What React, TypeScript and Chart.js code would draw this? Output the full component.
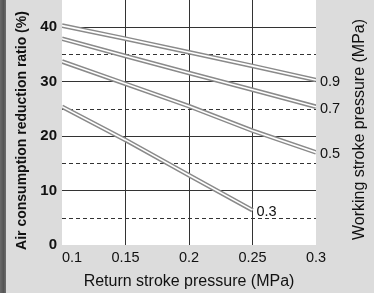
import React, { useEffect, useRef } from "react";
import { Chart, registerables } from "chart.js";

Chart.register(...registerables);

const xTicks = [0.1, 0.15, 0.2, 0.25, 0.3];
const xTickLabels = ["0.1", "0.15", "0.2", "0.25", "0.3"];
const yTicks = [0, 10, 20, 30, 40];
const yDashed = [5, 15, 25, 35];
const xValues = [0.1, 0.15, 0.2, 0.25, 0.3];
const seriesLabels = ["0.9", "0.7", "0.5", "0.3"];
const s09 = [40.3, 37.9, 35.4, 32.9, 30.3];
const s07 = [37.9, 34.7, 31.6, 28.5, 25.4];
const s05 = [33.7, 29.6, 25.5, 21.0, 17.0];
const s03 = [25.4, 19.3, 12.8, 6.4];
const xTitle = "Return stroke pressure (MPa)";
const yTitle = "Air consumption reduction ratio (%)";
const y2Title = "Working stroke pressure (MPa)";

const FONT = "'Liberation Sans', Arial, Helvetica, sans-serif";

export default function App() {
  const ref = useRef<HTMLCanvasElement | null>(null);

  useEffect(() => {
    document.body.style.margin = "0";
    const canvas = ref.current;
    if (!canvas) return;
    const series = [s09, s07, s05, s03];
    const toPts = (arr: number[]) => arr.map((v, i) => ({ x: xValues[i], y: v }));

    const inner = series.map((s, i) => ({
      label: seriesLabels[i],
      data: toPts(s),
      borderColor: "#ffffff",
      borderWidth: 1.6,
      pointRadius: 0,
      tension: 0,
      order: 0,
      borderCapStyle: "butt" as const,
    }));
    const outer = series.map((s, i) => ({
      label: "outer" + seriesLabels[i],
      data: toPts(s),
      borderColor: "#8a8a8a",
      borderWidth: 4.6,
      pointRadius: 0,
      tension: 0,
      order: 1,
      borderCapStyle: "butt" as const,
    }));

    const bgPlugin = {
      id: "bg",
      beforeDraw(chart: any) {
        const { ctx, chartArea, width, height } = chart;
        ctx.save();
        ctx.fillStyle = "#dcdcdc";
        ctx.fillRect(0, 0, width, height);
        const g = ctx.createLinearGradient(0, 0, 7, 0);
        g.addColorStop(0, "#6a6a6a");
        g.addColorStop(0.5, "#555555");
        g.addColorStop(1, "#777777");
        ctx.fillStyle = g;
        ctx.fillRect(0, 0, 6, height);
        ctx.fillStyle = "#ffffff";
        ctx.fillRect(chartArea.left, chartArea.top, chartArea.right - chartArea.left, chartArea.bottom - chartArea.top);
        ctx.restore();
      },
      beforeDatasetsDraw(chart: any) {
        const { ctx, chartArea } = chart;
        const y = chart.scales.y;
        ctx.save();
        ctx.strokeStyle = "#333333";
        ctx.lineWidth = 1;
        ctx.setLineDash([4, 3]);
        yDashed.forEach((v) => {
          const py = Math.round(y.getPixelForValue(v)) + 0.5;
          ctx.beginPath();
          ctx.moveTo(chartArea.left, py);
          ctx.lineTo(chartArea.right, py);
          ctx.stroke();
        });
        ctx.restore();
      },
      afterDatasetsDraw(chart: any) {
        const { ctx } = chart;
        ctx.save();
        ctx.fillStyle = "#111111";
        ctx.font = "14.5px " + FONT;
        ctx.textAlign = "left";
        ctx.textBaseline = "middle";
        seriesLabels.forEach((lab, i) => {
          const meta = chart.getDatasetMeta(i);
          const last = meta.data[meta.data.length - 1];
          ctx.fillText(lab, last.x + 4, last.y + 2);
        });
        ctx.restore();
      },
      afterDraw(chart: any) {
        const { ctx, chartArea } = chart;
        const cy = (chartArea.top + chartArea.bottom) / 2;
        ctx.save();
        ctx.fillStyle = "#111111";
        ctx.textAlign = "center";
        ctx.textBaseline = "middle";
        ctx.font = "16px " + FONT;
        ctx.save();
        ctx.translate(360, cy + 7);
        ctx.rotate(-Math.PI / 2);
        ctx.fillText(y2Title, 0, 0);
        ctx.restore();
        ctx.font = "bold 14px " + FONT;
        ctx.save();
        ctx.translate(22, cy + 8);
        ctx.rotate(-Math.PI / 2);
        ctx.fillText(yTitle, 0, 0);
        ctx.restore();
        ctx.restore();
      },
    };

    const chart = new Chart(canvas, {
      type: "line",
      data: { datasets: [...inner, ...outer] as any },
      options: {
        animation: false,
        responsive: false,
        maintainAspectRatio: false,
        layout: { padding: { left: 0, top: 0, right: 58, bottom: 0 } },
        plugins: { legend: { display: false }, tooltip: { enabled: false } },
        scales: {
          x: {
            type: "linear",
            min: 0.1,
            max: 0.3,
            afterBuildTicks: (s: any) => {
              s.ticks = xTicks.map((v) => ({ value: v }));
            },
            afterFit: (s: any) => {
              s.height = 48;
              s.paddingLeft = 0;
              s.paddingRight = 0;
            },
            border: { display: false },
            grid: {
              drawTicks: false,
              color: (c: any) =>
                c.tick && (c.tick.value === 0.1 || c.tick.value === 0.3) ? "rgba(0,0,0,0)" : "#333333",
              lineWidth: 1,
            },
            ticks: {
              padding: 4,
              color: "#111111",
              font: { family: FONT, size: 14.5 },
              maxRotation: 0,
              autoSkip: false,
              callback: (_v: any, i: number) => (i === 0 ? "     " + xTickLabels[0] : xTickLabels[i]),
            },
            title: {
              display: true,
              text: xTitle,
              color: "#111111",
              font: { family: FONT, size: 16 },
              padding: { top: 0, bottom: 2 },
            },
          },
          y: {
            type: "linear",
            min: 0,
            max: 45,
            afterBuildTicks: (s: any) => {
              s.ticks = yTicks.map((v) => ({ value: v }));
            },
            afterFit: (s: any) => {
              s.width = 62;
              s.paddingTop = 0;
              s.paddingBottom = 0;
            },
            border: { display: false },
            grid: {
              drawTicks: false,
              color: (c: any) => (c.tick && c.tick.value === 0 ? "rgba(0,0,0,0)" : "#333333"),
              lineWidth: 1,
            },
            ticks: {
              padding: 5,
              color: "#111111",
              font: { family: FONT, size: 15, weight: "bold" },
              autoSkip: false,
            },
          },
        },
      },
      plugins: [bgPlugin],
    });
    return () => chart.destroy();
  }, []);

  return <canvas ref={ref} width={374} height={293} style={{ display: "block", width: 374, height: 293 }} />;
}
